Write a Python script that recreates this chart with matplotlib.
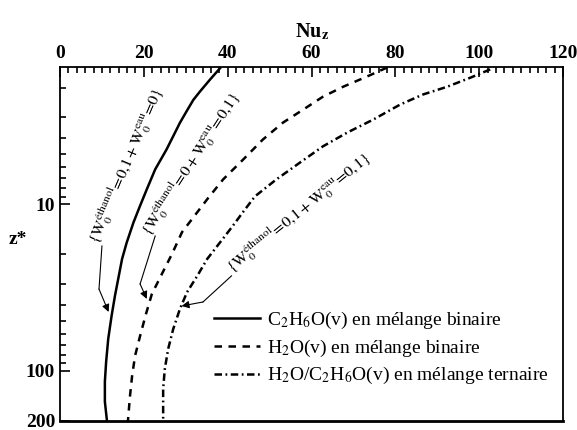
import matplotlib
matplotlib.use('Agg')
import matplotlib.pyplot as plt
from matplotlib.ticker import FixedLocator, NullFormatter

plt.rcParams['font.family'] = 'serif'
plt.rcParams['font.serif'] = ['Liberation Serif', 'DejaVu Serif']
plt.rcParams['mathtext.fontset'] = 'stix'

# values (z* on a log axis, Nu_z)
z_ethanol = [1.52, 1.78, 2.10, 2.36, 2.76, 3.24, 3.90, 4.69, 6.17, 8.13, 10.2, 12.9,
             17.0, 21.3, 35.5, 46.8, 64.3, 88.3, 116, 153, 200]
nu_ethanol = [38.2, 35.8, 33.4, 31.8, 30.2, 28.6, 27.0, 25.4, 22.7, 20.7, 19.1, 17.5,
              15.9, 14.8, 13.1, 12.3, 11.5, 11.0, 10.7, 10.7, 11.2]

z_eau = [1.51, 1.71, 1.97, 2.26, 2.70, 3.23, 4.08, 5.38, 7.09, 9.33, 14.7,
         19.9, 26.2, 34.6, 45.6, 61.7, 81.3, 107, 141, 200]
nu_eau = [78.0, 73.2, 67.5, 62.7, 58.0, 53.2, 48.4, 43.7, 38.9, 35.1, 29.1,
          26.7, 24.3, 21.9, 20.5, 19.1, 17.9, 17.2, 16.7, 16.2]

z_tern = [1.55, 1.74, 1.97, 2.19, 2.52, 3.10, 3.71, 4.49, 5.60, 7.09, 8.96, 11.0,
          13.7, 16.9, 21.3, 27.0, 33.7, 42.5, 56.1, 73.8, 97.3, 128, 200]
nu_tern = [102.6, 97.8, 92.3, 86.6, 81.1, 74.7, 68.5, 62.7, 57.3, 51.6, 46.5, 43.8,
           41.0, 38.2, 35.1, 32.7, 30.3, 28.6, 27.0, 25.8, 25.0, 24.6, 24.6]

labels = [r'C$_2$H$_6$O(v) en mélange binaire',
          r'H$_2$O(v) en mélange binaire',
          r'H$_2$O/C$_2$H$_6$O(v) en mélange ternaire']

notes = [r'$\{\mathrm{W}_0^{\mathrm{éthanol}}\!=\!0{,}1 + \mathrm{W}_0^{\mathrm{eau}}\!=\!0\}$',
         r'$\{\mathrm{W}_0^{\mathrm{éthanol}}\!=\!0 + \mathrm{W}_0^{\mathrm{eau}}\!=\!0{,}1\}$',
         r'$\{\mathrm{W}_0^{\mathrm{éthanol}}\!=\!0{,}1 + \mathrm{W}_0^{\mathrm{eau}}\!=\!0{,}1\}$']
note_xy = [(9.2, 17.5), (21.3, 15.6), (41.0, 26.0)]
note_rot = [67, 57, 39]
# leader lines: start, bend, tip
leaders = [[(10.0, 17.8), (9.3, 32.3), (11.6, 44.3)],
           [(22.7, 15.5), (19.1, 30.1), (20.7, 37.0)],
           [(40.9, 26.9), (34.1, 38.6), (29.0, 40.8)]]

fig = plt.figure(figsize=(5.77, 4.30), dpi=100)
ax = fig.add_axes([0.104, 0.021, 0.872, 0.823])

ax.plot(nu_ethanol, z_ethanol, color='black', lw=1.8, label=labels[0])
ax.plot(nu_eau, z_eau, color='black', lw=1.8, dashes=(3.0, 2.6), label=labels[1])
ax.plot(nu_tern, z_tern, color='black', lw=1.8, dashes=(3.0, 1.4, 0.7, 1.4), label=labels[2])

ax.set_yscale('log')
ax.set_ylim(200, 1.5)
ax.set_xlim(0, 120)

ax.xaxis.tick_top()
ax.xaxis.set_label_position('top')
ax.set_xticks(range(0, 121, 20))
ax.set_xticks(range(0, 121, 2), minor=True)
ax.yaxis.set_major_locator(FixedLocator([10, 100, 200]))
ax.yaxis.set_minor_locator(FixedLocator([2, 3, 4, 5, 6, 7, 8, 9, 20, 30, 40, 50, 60, 70, 80, 90]))
ax.yaxis.set_minor_formatter(NullFormatter())
ax.set_yticklabels(['10', '100', '200'])

ax.tick_params(which='both', direction='in', top=True, bottom=False, right=False,
               labelsize=14, width=1.2)
ax.tick_params(which='major', length=7)
ax.tick_params(which='minor', length=4)
for lab in ax.get_xticklabels() + ax.get_yticklabels():
    lab.set_fontweight('bold')
for sp in ax.spines.values():
    sp.set_linewidth(1.3)
ax.spines['bottom'].set_linewidth(2)

ax.set_xlabel(r'Nu$_\mathbf{z}$', fontsize=14.5, fontweight='bold', labelpad=6)
ax.set_ylabel('z*', fontsize=14, fontweight='bold', rotation=0)
ax.yaxis.set_label_coords(-0.083, 0.49)

for txt, xy, rot, pts in zip(notes, note_xy, note_rot, leaders):
    ax.text(xy[0], xy[1], txt, rotation=rot, rotation_mode='anchor',
            ha='left', va='baseline', fontsize=11.8)
    ax.plot([pts[0][0], pts[1][0]], [pts[0][1], pts[1][1]], color='black', lw=0.8)
    ax.annotate('', xy=pts[2], xytext=pts[1],
                arrowprops=dict(arrowstyle='-|>', color='black', lw=0.8,
                                mutation_scale=11, shrinkA=0, shrinkB=0))

ax.legend(loc='lower right', bbox_to_anchor=(1.006, 0.048), frameon=False,
          fontsize=14, handlelength=2.4, labelspacing=0.35, handletextpad=0.35)

fig.savefig('out.png', dpi=100)
